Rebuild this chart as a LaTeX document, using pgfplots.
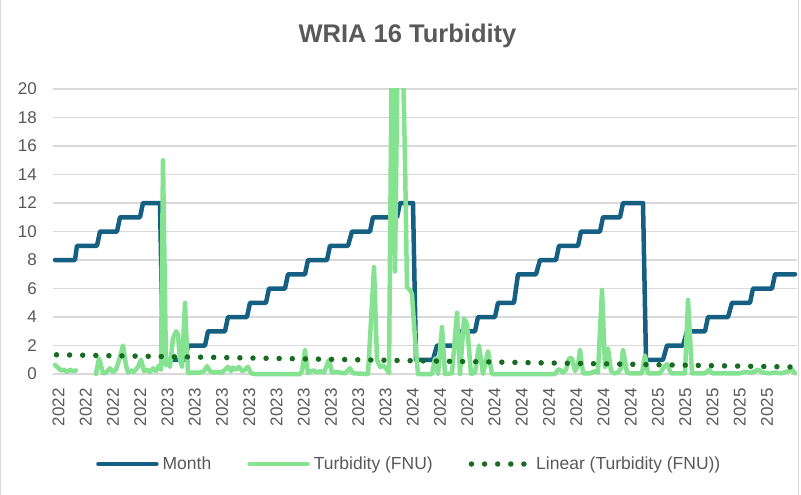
\documentclass[border=0pt]{standalone}
\usepackage{fontspec}
\setmainfont{Liberation Sans}
\usepackage{pgfplots}
\pgfplotsset{compat=1.18}
\definecolor{monthblue}{HTML}{156082}
\definecolor{turbgreen}{HTML}{85E291}
\definecolor{trendgreen}{HTML}{196B24}
\definecolor{txtgray}{HTML}{595959}
\definecolor{gridgray}{HTML}{D9D9D9}
\begin{document}
\begin{tikzpicture}
\path[use as bounding box] (0,0) rectangle (801bp,495bp);
\fill[white] (0,0) rectangle (801bp,495bp);
\draw[gridgray, line width=1bp] (0.8bp,0) -- (0.8bp,495bp);
\draw[gridgray, line width=1bp] (798.5bp,0) -- (798.5bp,495bp);
\begin{axis}[
  at={(53bp,118.7bp)}, anchor=south west,
  width=744bp, height=287.3bp, scale only axis,
  xmin=53, xmax=797, ymin=-0.16, ymax=20,
  axis line style={draw=none},
  major tick length=0pt,
  ytick={0,2,4,6,8,10,12,14,16,18,20},
  xtick={58.5,85.75,113,140.25,167.5,194.75,222,249.25,276.5,303.75,331,358.25,385.5,412.75,440,467.25,494.5,521.75,549,576.25,603.5,630.75,658,685.25,712.5,739.75,767},
  xticklabels={2022,2022,2022,2022,2023,2023,2023,2023,2023,2023,2023,2023,2023,2024,2024,2024,2024,2024,2024,2024,2024,2024,2025,2025,2025,2025,2025},
  ymajorgrids, grid style={gridgray, line width=1.3bp},
  /pgf/number format/assume math mode=true,
  tick label style={font=\fontsize{17bp}{20bp}\selectfont, text=txtgray},
  yticklabel style={anchor=east, inner sep=0pt, xshift=-16bp},
  xticklabel style={yshift=-11.7bp, rotate=90, anchor=east, inner sep=0pt},
  title={WRIA 16 Turbidity},
  title style={at={(axis description cs:0.4765,1)}, anchor=center, yshift=47bp, font=\bfseries\fontsize{25.5bp}{30bp}\selectfont, text=txtgray},
  legend columns=3,
  legend cell align=left,
  legend image code/.code={\draw[#1] (0bp,0bp) -- (58bp,0bp);},
  legend style={at={(axis description cs:0.4775,-0.3053)}, anchor=center, draw=none, fill=none,
    font=\fontsize{17.5bp}{21bp}\selectfont, text=txtgray, inner sep=0pt,
    nodes={inner sep=0pt},
    /tikz/every odd column/.append style={column sep=4bp},
    /tikz/every even column/.append style={column sep=36bp}},
  unbounded coords=jump,
]
\addplot[monthblue, line width=4.5bp, line join=round, line cap=round] coordinates {
(55,8)(75,8)(77,9)(97,9)(100,10)(117,10)(120,11)(140,11)(143,12)(160,12)
(163,1)(185,1)(188,2)(205,2)(208,3)(225,3)(228,4)(247,4)(250,5)(266,5)
(269,6)(285,6)(288,7)(305,7)(308,8)(327,8)(330,9)(348,9)(352,10)(370,10)
(373,11)(397,11)(400,12)(413,12)
(416,1)(433,1)(437,2)(457,2)(461,3)(475,3)(478,4)(495,4)(498,5)(514,5)
(518,7)(536,7)(540,8)(556,8)(559,9)(578,9)(581,10)(600,10)(603,11)(620,11)
(623,12)(643,12)
(646,1)(663,1)(667,2)(683,2)(687,3)(705,3)(708,4)(728,4)(732,5)(750,5)
(753,6)(772,6)(775,7)(795,7)
};
\addlegendentry{Month}
\addplot[turbgreen, line width=4.5bp, line join=round, line cap=round] coordinates {
(55,0.63)(58,0.45)(61,0.25)(64,0.3)(67,0.15)(70,0.3)(73,0.2)(76,0.25)
(86,nan)
(96,0)(99,1.1)(103,0.05)(106,0.1)(110,0.4)(113,0.15)(116,0.3)(120,1.2)
(123,2.0)(126,0.6)(128,0.1)(131,0.25)(134,0.15)(138,0.5)(141,1.0)(144,0.2)
(147,0.3)(150,0.15)(153,0.4)(156,0.2)(159,0.6)(161,0.3)(163,15.0)(166,0.6)
(168,1.0)(170,0.5)(173,2.5)(176,3.0)(178,2.8)(180,1.0)(182,0.5)(185,5.0)
(188,0.05)(191,0.1)(195,0.1)(200,0.1)(204,0.2)(207,0.55)(210,0.2)(214,0.1)
(218,0.15)(222,0.1)(225,0.3)(228,0.5)(231,0.2)(233,0.45)(236,0.3)(239,0.5)
(242,0.2)(245,0.3)(248,0.5)(251,0.05)(255,0)(300,0)(302,0.2)(305,1.7)
(308,0.05)(311,0.2)(314,0.25)(317,0.1)(320,0.2)(324,0.1)(329,1.0)(332,0.1)
(336,0.15)(340,0.1)(345,0.05)(350,0.4)(353,0.05)(368,0)(372,5.0)(374,7.5)
(377,1.0)(380,0.5)(383,0.6)(386,0.4)(389,0.05)(392,25)(395,7.2)(398,25)
(402,25)(405,15)(407,6.1)(410,5.9)(412,5.6)(415,2.5)(418,0)(432,0)
(435,1.1)(438,0)(442,3.3)(445,0)(452,0.05)(457,4.3)(460,0)(464,3.9)
(467,3.5)(471,0)(475,0.1)(479,2.0)(483,0)(488,1.6)(492,0)(555,0)
(558,0.3)(560,0.3)(563,0.1)(566,0.3)(569,1.1)(572,1.1)(575,0.2)(578,0.6)
(580,1.7)(583,0.05)(590,0.05)(595,0.2)(598,0.1)(600,3.0)(602,5.9)(605,0.5)
(608,1.8)(611,0.2)(614,0.05)(618,0.1)(621,0.4)(623,1.7)(627,0.1)(630,0.05)
(642,0.05)(645,1.3)(648,0.05)(660,0.05)(664,0.5)(667,0.7)(671,0.05)(685,0.05)
(688,5.2)(692,0.05)(705,0.05)(709,0.3)(712,0.05)(740,0.05)(745,0.15)(752,0.1)
(758,0.3)(763,0.1)(770,0.05)(775,0.1)(781,0.05)(786,0.15)(792,0.3)(795,0.05)
};
\addlegendentry{Turbidity (FNU)}
\addplot[trendgreen, line width=5.5bp, line cap=round, dash pattern=on 0bp off 13.1bp] coordinates {
(56.5,1.35)(795,0.49)
};
\addlegendentry{Linear (Turbidity (FNU))}
\end{axis}
\end{tikzpicture}
\end{document}
